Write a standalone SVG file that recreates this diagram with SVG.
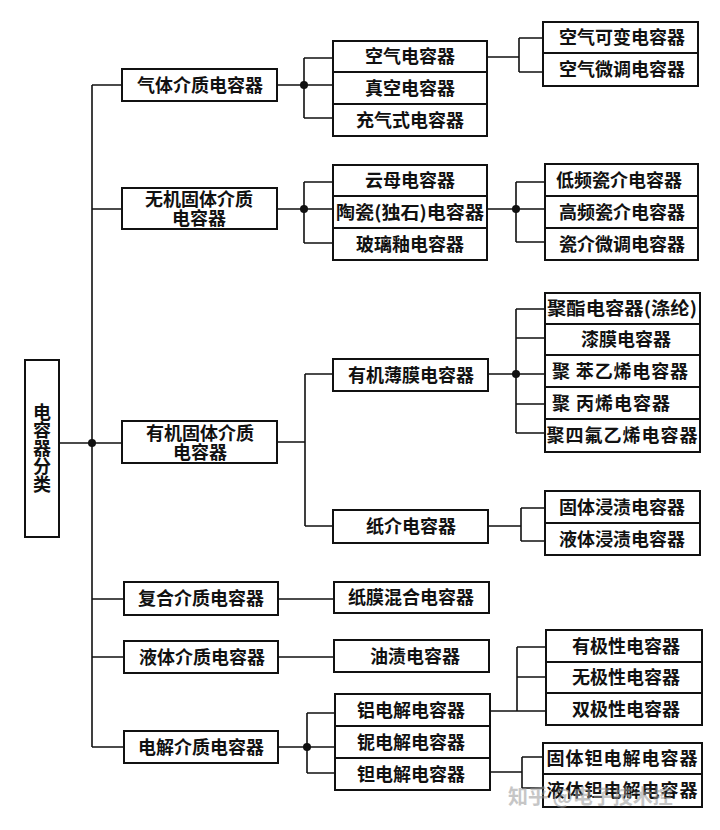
<svg xmlns="http://www.w3.org/2000/svg" width="720" height="830" viewBox="0 0 720 830">
<style>
.box{fill:#fff;stroke:#111;stroke-width:2}
.ln{stroke:#111;stroke-width:1.6;fill:none}
.dot{fill:#111}
.t{font-family:"Noto Sans CJK SC","Noto Sans",sans-serif;font-size:18px;font-weight:700;fill:#111;text-anchor:middle}
.v{font-family:"Noto Sans CJK SC","Noto Sans",sans-serif;font-size:18px;font-weight:700;fill:#111;writing-mode:vertical-rl}
.wm{font-family:"Noto Sans CJK SC",sans-serif;font-size:20px;font-weight:700;fill:#999;opacity:0.55}
</style>
<rect width="720" height="830" fill="#fff"/>

<g id="connectors">
  <path class="ln" d="M59,443H92M92,85V747M92,85H122M92,209H122M92,443H122M92,599H124M92,657H124M92,747H124"/>
  <circle class="dot" cx="92" cy="443" r="4"/>
  <path class="ln" d="M277,85H333M304,58V118M304,58H333M304,118H333"/>
  <circle class="dot" cx="304" cy="85" r="4"/>
  <path class="ln" d="M487,57H519M519,38V72M519,38H543M519,72H543"/>
  <path class="ln" d="M277,209H333M304,182V243M304,182H333M304,243H333"/>
  <circle class="dot" cx="304" cy="209" r="4"/>
  <path class="ln" d="M487,209H545M516,182V242M516,182H545M516,242H545"/>
  <circle class="dot" cx="516" cy="209" r="4"/>
  <path class="ln" d="M277,442H305M305,374V526M305,374H333M305,526H333"/>
  <path class="ln" d="M488,374H545M516,309V433M516,309H545M516,338H545M516,404H545M516,433H545"/>
  <circle class="dot" cx="516" cy="374" r="4"/>
  <path class="ln" d="M488,526H521M521,508V541M521,508H545M521,541H545"/>
  <path class="ln" d="M278,599H334M278,657H334"/>
  <path class="ln" d="M278,747H335M307,713V773M307,713H335M307,773H335"/>
  <circle class="dot" cx="307" cy="747" r="4"/>
  <path class="ln" d="M490,711H546M517,647V711M517,647H546M517,677H546"/>
  <path class="ln" d="M490,772H522M522,757V788M522,757H543M522,788H543"/>
</g>

<g id="root">
  <rect class="box" x="25" y="360" width="34" height="177"/>
  <text class="v" x="42" y="403">电容器分类</text>
</g>

<g id="gas">
  <rect class="box" x="122" y="69" width="155" height="32"/>
  <text class="t" x="200" y="92">气体介质电容器</text>
</g>
<g id="gas-children">
  <rect class="box" x="333" y="41" width="154" height="31"/>
  <text class="t" x="410" y="63">空气电容器</text>
  <rect class="box" x="333" y="72" width="154" height="32"/>
  <text class="t" x="410" y="95">真空电容器</text>
  <rect class="box" x="333" y="104" width="154" height="32"/>
  <text class="t" x="410" y="127">充气式电容器</text>
</g>
<g id="air-children">
  <rect class="box" x="543" y="22" width="155" height="31"/>
  <text class="t" x="622" y="44">空气可变电容器</text>
  <rect class="box" x="543" y="53" width="155" height="33"/>
  <text class="t" x="622" y="76">空气微调电容器</text>
</g>

<g id="inorganic">
  <rect class="box" x="122" y="188" width="155" height="41"/>
  <text class="t"><tspan x="199" y="206">无机固体介质</tspan><tspan x="199" y="225">电容器</tspan></text>
</g>
<g id="inorganic-children">
  <rect class="box" x="333" y="165" width="154" height="31"/>
  <text class="t" x="410" y="187">云母电容器</text>
  <rect class="box" x="333" y="196" width="154" height="32"/>
  <text class="t" x="410" y="219" textLength="148" lengthAdjust="spacingAndGlyphs">陶瓷(独石)电容器</text>
  <rect class="box" x="333" y="228" width="154" height="32"/>
  <text class="t" x="410" y="251">玻璃釉电容器</text>
</g>
<g id="ceramic-children">
  <rect class="box" x="545" y="164" width="153" height="32"/>
  <text class="t" x="619" y="187">低频瓷介电容器</text>
  <rect class="box" x="545" y="196" width="153" height="32"/>
  <text class="t" x="622" y="219">高频瓷介电容器</text>
  <rect class="box" x="545" y="228" width="153" height="32"/>
  <text class="t" x="622" y="251">瓷介微调电容器</text>
</g>

<g id="organic">
  <rect class="box" x="122" y="421" width="155" height="42"/>
  <text class="t"><tspan x="200" y="440">有机固体介质</tspan><tspan x="200" y="459">电容器</tspan></text>
</g>
<g id="organic-children">
  <rect class="box" x="333" y="359" width="155" height="32"/>
  <text class="t" x="411" y="382">有机薄膜电容器</text>
  <rect class="box" x="333" y="510" width="155" height="33"/>
  <text class="t" x="411" y="533">纸介电容器</text>
</g>
<g id="film-children">
  <rect class="box" x="545" y="293" width="155" height="31"/>
  <text class="t" x="622" y="315" textLength="150" lengthAdjust="spacingAndGlyphs">聚酯电容器(涤纶)</text>
  <rect class="box" x="545" y="324" width="155" height="31"/>
  <text class="t" x="626" y="346">漆膜电容器</text>
  <rect class="box" x="545" y="355" width="155" height="32"/>
  <text class="t" x="620" y="378" textLength="136" lengthAdjust="spacing">聚 苯乙烯电容器</text>
  <rect class="box" x="545" y="387" width="155" height="32"/>
  <text class="t" x="611" y="410" textLength="118" lengthAdjust="spacing">聚 丙烯电容器</text>
  <rect class="box" x="545" y="419" width="155" height="33"/>
  <text class="t" x="622" y="442" textLength="151" lengthAdjust="spacing">聚四氟乙烯电容器</text>
</g>
<g id="paper-children">
  <rect class="box" x="545" y="491" width="155" height="32"/>
  <text class="t" x="622" y="514">固体浸渍电容器</text>
  <rect class="box" x="545" y="523" width="155" height="32"/>
  <text class="t" x="622" y="546">液体浸渍电容器</text>
</g>

<g id="composite">
  <rect class="box" x="124" y="582" width="154" height="33"/>
  <text class="t" x="201" y="605">复合介质电容器</text>
  <rect class="box" x="334" y="582" width="155" height="31"/>
  <text class="t" x="411" y="604">纸膜混合电容器</text>
</g>

<g id="liquid">
  <rect class="box" x="124" y="641" width="154" height="32"/>
  <text class="t" x="202" y="664">液体介质电容器</text>
  <rect class="box" x="334" y="640" width="155" height="32"/>
  <text class="t" x="415" y="663">油渍电容器</text>
</g>

<g id="electrolytic">
  <rect class="box" x="124" y="731" width="154" height="32"/>
  <text class="t" x="201" y="754">电解介质电容器</text>
</g>
<g id="electrolytic-children">
  <rect class="box" x="335" y="694" width="155" height="32"/>
  <text class="t" x="411" y="717">铝电解电容器</text>
  <rect class="box" x="335" y="726" width="155" height="32"/>
  <text class="t" x="411" y="749">铌电解电容器</text>
  <rect class="box" x="335" y="758" width="155" height="32"/>
  <text class="t" x="411" y="781">钽电解电容器</text>
</g>
<g id="aluminium-children">
  <rect class="box" x="546" y="630" width="156" height="32"/>
  <text class="t" x="626" y="653">有极性电容器</text>
  <rect class="box" x="546" y="662" width="156" height="31"/>
  <text class="t" x="626" y="684">无极性电容器</text>
  <rect class="box" x="546" y="693" width="156" height="32"/>
  <text class="t" x="626" y="716">双极性电容器</text>
</g>
<g id="tantalum-children">
  <rect class="box" x="543" y="743" width="159" height="31"/>
  <text class="t" x="622" y="765" textLength="151" lengthAdjust="spacing">固体钽电解电容器</text>
  <rect class="box" x="543" y="774" width="159" height="33"/>
  <text class="t" x="622" y="797" textLength="151" lengthAdjust="spacing">液体钽电解电容器</text>
</g>

<text class="wm" x="508" y="804">知乎 @电子技术控</text>
</svg>
